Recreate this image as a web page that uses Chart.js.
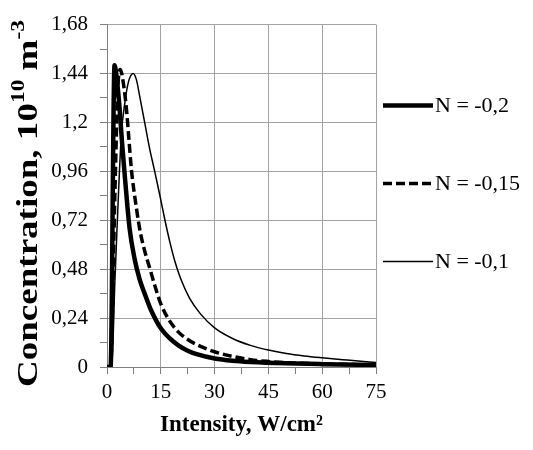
<!DOCTYPE html>
<html>
<head>
<meta charset="utf-8">
<script src="https://cdn.jsdelivr.net/npm/chart.js@4"></script>
<style>
body { margin: 0; background: #fff; }
#wrap { width: 533px; height: 450px; }
</style>
</head>
<body>
<div id="wrap"><canvas id="myChart" width="533" height="450"></canvas></div>
<script>
// series
var seriesLabels = ["N = -0,2", "N = -0,15", "N = -0,1"];

// N = -0,2 (thick solid)
var intensityA = [0, 1.0, 2.1, 2.7, 3.5, 4.2, 5.0, 6.3, 7.7, 9.1, 10.5, 12, 13.5, 15, 17.5, 20, 22.5, 25, 30, 35, 40, 50, 60, 75];
var concA = [0, 0, 1.48, 1.42, 1.27, 1.10, 0.93, 0.68, 0.53, 0.43, 0.36, 0.29, 0.235, 0.19, 0.14, 0.105, 0.08, 0.063, 0.042, 0.031, 0.025, 0.018, 0.014, 0.01];

// N = -0,15 (dashed)
var intensityB = [0, 1.0, 2.2, 3.0, 3.7, 4.5, 5.4, 6.1, 6.8, 8.2, 9.3, 10.5, 12, 13.5, 15, 17.5, 20, 22.5, 25, 30, 35, 40, 45, 50, 60, 75];
var concB = [0, 0, 0.85, 1.36, 1.46, 1.40, 1.27, 1.12, 0.97, 0.78, 0.66, 0.57, 0.48, 0.39, 0.31, 0.225, 0.17, 0.135, 0.11, 0.075, 0.052, 0.036, 0.027, 0.021, 0.015, 0.01];

// N = -0,1 (thin solid)
var intensityC = [0, 1.3, 2.2, 3.1, 4.0, 5.0, 6.0, 7.3, 8.2, 9.1, 10.5, 11.9, 13.3, 14.7, 16.1, 17.5, 18.9, 20.5, 23, 26, 30, 35, 40, 45, 50, 55, 60, 67, 75];
var concC = [0, 0, 0.42, 0.81, 1.14, 1.30, 1.40, 1.44, 1.41, 1.33, 1.20, 1.07, 0.96, 0.845, 0.725, 0.615, 0.52, 0.435, 0.338, 0.262, 0.192, 0.14, 0.106, 0.083, 0.066, 0.054, 0.045, 0.034, 0.022];

// axis ticks
var xTickValues = [0, 15, 30, 45, 60, 75];
var xTickLabels = ["0", "15", "30", "45", "60", "75"];
var yTickValues = [0, 0.24, 0.48, 0.72, 0.96, 1.2, 1.44, 1.68];
var yTickLabels = ["0", "0,24", "0,48", "0,72", "0,96", "1,2", "1,44", "1,68"];

function toPoints(xs, ys) {
    return xs.map(function (x, i) { return { x: x, y: ys[i] }; });
}

function majorIndex(list, v) {
    for (var k = 0; k < list.length; k++) {
        if (Math.abs(list[k] - v) < 1e-6) return k;
    }
    return -1;
}

var gridGray = '#a3a3a3';
var axisGray = '#7f7f7f';
var serif = '"Liberation Serif", "Times New Roman", serif';

// y title with superscripts
var yTitlePlugin = {
    id: 'yTitle',
    afterDraw: function (chart) {
        var ctx = chart.ctx;
        var big = 'bold 30px ' + serif;
        var small = 'bold 19px ' + serif;
        var parts = [
            { t: 'Concentration, 10', f: big, dy: 0 },
            { t: '10', f: small, dy: -13 },
            { t: ' m', f: big, dy: 0 },
            { t: '-3', f: small, dy: -13 }
        ];
        ctx.save();
        var total = 0;
        parts.forEach(function (p) { ctx.font = p.f; p.w = ctx.measureText(p.t).width; total += p.w; });
        var sx = 367 / total;
        ctx.translate(37, 387);
        ctx.rotate(-Math.PI / 2);
        ctx.scale(sx, 1);
        ctx.fillStyle = '#000';
        ctx.textBaseline = 'alphabetic';
        var x = 0;
        parts.forEach(function (p) {
            ctx.font = p.f;
            ctx.fillText(p.t, x, p.dy);
            x += p.w;
        });
        ctx.restore();
    }
};

// legend on the right with line samples
var sideLegendPlugin = {
    id: 'sideLegend',
    afterDraw: function (chart) {
        var ctx = chart.ctx;
        var area = chart.chartArea;
        ctx.save();
        ctx.font = '22px ' + serif;
        ctx.textBaseline = 'middle';
        ctx.fillStyle = '#000';
        chart.data.datasets.forEach(function (ds, i) {
            var y = area.top + 81 + i * 78;
            ctx.beginPath();
            ctx.lineWidth = ds.borderWidth;
            ctx.setLineDash(ds.borderDash || []);
            ctx.strokeStyle = ds.borderColor;
            ctx.moveTo(area.right + 7, y);
            ctx.lineTo(area.right + 57, y);
            ctx.stroke();
            ctx.setLineDash([]);
            ctx.fillText(ds.label, area.right + 59, y + 1);
        });
        ctx.restore();
    }
};

var ctx = document.getElementById('myChart');
var myChart = new Chart(ctx, {
    type: 'scatter',
    data: {
        datasets: [{
            label: seriesLabels[0],
            data: toPoints(intensityA, concA),
            borderColor: '#000',
            borderWidth: 4.5,
            showLine: true,
            pointRadius: 0,
            cubicInterpolationMode: 'monotone'
        }, {
            label: seriesLabels[1],
            data: toPoints(intensityB, concB),
            borderColor: '#000',
            borderWidth: 3.5,
            borderDash: [9, 4],
            showLine: true,
            pointRadius: 0,
            cubicInterpolationMode: 'monotone'
        }, {
            label: seriesLabels[2],
            data: toPoints(intensityC, concC),
            borderColor: '#000',
            borderWidth: 1.5,
            showLine: true,
            pointRadius: 0,
            cubicInterpolationMode: 'monotone'
        }]
    },
    options: {
        responsive: false,
        animation: false,
        layout: { padding: { top: 22, right: 157, left: 0, bottom: 0 } },
        plugins: {
            legend: { display: false },
            tooltip: { enabled: false }
        },
        scales: {
            x: {
                type: 'linear',
                min: 0,
                max: 75,
                ticks: {
                    stepSize: 7.5,
                    autoSkip: false,
                    maxRotation: 0,
                    padding: 6,
                    color: '#000',
                    font: { family: serif, size: 21 },
                    callback: function (v) {
                        var k = majorIndex(xTickValues, v);
                        return k < 0 ? '' : xTickLabels[k];
                    }
                },
                grid: {
                    color: function (c) { return majorIndex(xTickValues, c.tick.value) < 0 ? 'rgba(0,0,0,0)' : gridGray; },
                    tickColor: axisGray,
                    tickLength: 7
                },
                border: { color: axisGray },
                title: {
                    display: true,
                    text: 'Intensity, W/cm²',
                    color: '#000',
                    font: { family: serif, size: 23, weight: 'bold' },
                    padding: { top: 0, bottom: 11 }
                },
                afterFit: function (s) { s.height = 83; }
            },
            y: {
                type: 'linear',
                min: 0,
                max: 1.68,
                ticks: {
                    stepSize: 0.12,
                    autoSkip: false,
                    padding: 12,
                    color: '#000',
                    font: { family: serif, size: 21 },
                    callback: function (v) {
                        var k = majorIndex(yTickValues, v);
                        return k < 0 ? '' : yTickLabels[k];
                    }
                },
                grid: {
                    color: function (c) { return majorIndex(yTickValues, c.tick.value) < 0 ? 'rgba(0,0,0,0)' : gridGray; },
                    tickColor: axisGray,
                    tickLength: 7
                },
                border: { color: axisGray },
                afterFit: function (s) { s.width = 107; }
            }
        }
    },
    plugins: [yTitlePlugin, sideLegendPlugin]
});
</script>
</body>
</html>
